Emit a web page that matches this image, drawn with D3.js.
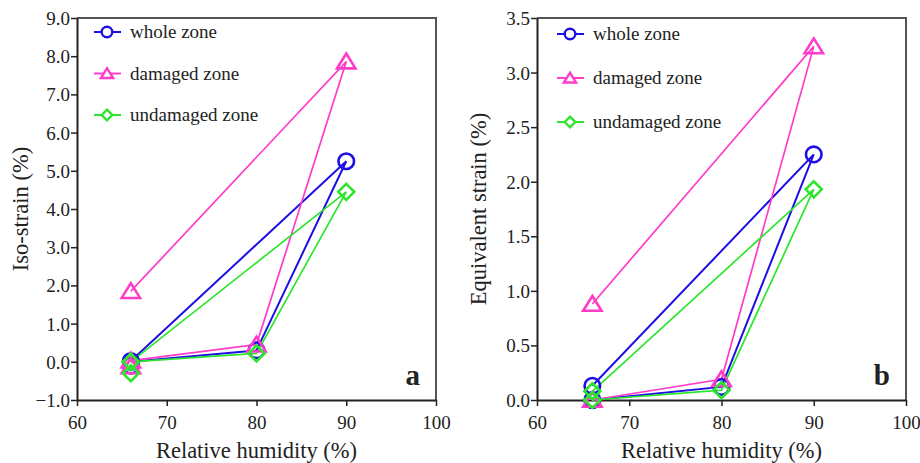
<!DOCTYPE html>
<html>
<head>
<meta charset="utf-8">
<script src="https://cdn.jsdelivr.net/npm/d3@7"></script>
<style>
  body { margin: 0; background: #fff; }
  text { font-family: "Liberation Serif", "Times New Roman", "DejaVu Serif", serif; fill: #222; }
</style>
</head>
<body>
<div id="chart-area"></div>
<script>

// Data
let rhPath = [66, 80, 90, 66];

// panel a : iso-strain (%)
let isoWhole = [0.0, 0.30, 5.25, 0.02];
let isoDamaged = [0.03, 0.45, 7.86, 1.85];
let isoUndamaged = [0.0, 0.22, 4.45, 0.0];
// second readings at 66 %
let isoWholeExtra = [-0.1];
let isoDamagedExtra = [-0.12];
let isoUndamagedExtra = [-0.3];

// panel b : equivalent strain (%)
let eqWhole = [0.0, 0.12, 2.25, 0.13];
let eqDamaged = [0.0, 0.19, 3.24, 0.88];
let eqUndamaged = [0.0, 0.09, 1.93, 0.08];

let seriesNames = ["whole zone", "damaged zone", "undamaged zone"];
let seriesColors = ["#1e10e4", "#ff3cc8", "#2ee52e"];
let seriesShapes = ["circle", "triangle", "diamond"];

let xTicks = [60, 70, 80, 90, 100];
let isoTicks = [-1, 0, 1, 2, 3, 4, 5, 6, 7, 8, 9];
let eqTicks = [0, 0.5, 1, 1.5, 2, 2.5, 3, 3.5];


let svg = d3.select("#chart-area").append("svg")
    .attr("width", 920)
    .attr("height", 463);

let serif = "'Liberation Serif', 'Times New Roman', 'DejaVu Serif', serif";

function shapePath(shape, s) {
    if (shape == "circle") {
        return d3.symbol().type(d3.symbolCircle).size(Math.PI * s * s)();
    }
    if (shape == "triangle") {
        let w = s * 1.15, h = s * 1.0;
        return "M0," + (-h) + "L" + w + "," + (h * 0.85) + "L" + (-w) + "," + (h * 0.85) + "Z";
    }
    let d = s * 1.0;
    return "M0," + (-d) + "L" + d + ",0L0," + d + "L" + (-d) + ",0Z";
}

function drawPanel(cfg) {
    let g = svg.append("g");

    let x = d3.scaleLinear().domain([60, 100]).range([cfg.left, cfg.right]);
    let y = d3.scaleLinear().domain(cfg.yDomain).range([cfg.bottom, cfg.top]);

    // frame (top + right)
    g.append("path")
        .attr("d", "M" + cfg.left + "," + cfg.top + "H" + cfg.right + "V" + cfg.bottom)
        .attr("fill", "none")
        .attr("stroke", "#555")
        .attr("stroke-width", 2);

    // Axes
    let xAxis = d3.axisBottom(x).tickValues(xTicks).tickSize(6).tickSizeOuter(0);
    let yAxis = d3.axisLeft(y).tickValues(cfg.yTicks).tickSize(6).tickSizeOuter(0)
        .tickFormat(d3.format(".1f"));

    let xg = g.append("g")
        .attr("transform", "translate(0," + cfg.bottom + ")")
        .call(xAxis);
    let yg = g.append("g")
        .attr("transform", "translate(" + cfg.left + ",0)")
        .call(yAxis);

    [xg, yg].forEach(function (a) {
        a.attr("font-family", serif);
        a.select(".domain").attr("stroke", "#222").attr("stroke-width", 2);
        a.selectAll(".tick line").attr("stroke", "#222").attr("stroke-width", 1.5);
        a.selectAll(".tick text")
            .attr("fill", "#222")
            .style("font-family", serif)
            .style("font-size", "19px");
    });
    xg.selectAll(".tick text").attr("dy", "1.05em");
    yg.selectAll(".tick text").attr("x", -7).attr("dy", "0.34em");

    // axis titles
    g.append("text")
        .attr("x", (cfg.left + cfg.right) / 2)
        .attr("y", 458)
        .attr("text-anchor", "middle")
        .style("font-size", "22.5px")
        .text("Relative humidity (%)");

    g.append("text")
        .attr("transform", "translate(" + cfg.yTitleX + "," + ((cfg.top + cfg.bottom) / 2) + ") rotate(-90)")
        .attr("text-anchor", "middle")
        .style("font-size", "22.5px")
        .text(cfg.yTitle);

    // panel letter
    g.append("text")
        .attr("x", cfg.right - 16)
        .attr("y", cfg.bottom - 15)
        .attr("text-anchor", "end")
        .style("font-size", "29px")
        .style("font-weight", "bold")
        .text(cfg.letter);

    let line = d3.line()
        .x(function (d) { return x(d[0]); })
        .y(function (d) { return y(d[1]); });

    // lines, then markers on top
    cfg.series.forEach(function (vals, i) {
        let pts = rhPath.map(function (r, k) { return [r, vals[k]]; });
        g.append("path")
            .attr("d", line(pts))
            .attr("fill", "none")
            .attr("stroke", seriesColors[i])
            .attr("stroke-width", i == 0 ? 2 : 1.7);
    });

    cfg.series.forEach(function (vals, i) {
        let pts = rhPath.map(function (r, k) { return [r, vals[k]]; });
        if (cfg.extras) {
            cfg.extras[i].forEach(function (v) { pts.unshift([66, v]); });
        }
        g.selectAll(".m" + i)
            .data(pts)
            .enter().append("path")
            .attr("class", "m" + i)
            .attr("transform", function (d) { return "translate(" + x(d[0]) + "," + y(d[1]) + ")"; })
            .attr("d", shapePath(seriesShapes[i], i == 0 ? 7.8 : 8))
            .attr("fill", "none")
            .attr("stroke", seriesColors[i])
            .attr("stroke-width", 2.6);
    });

    // legend
    seriesNames.forEach(function (name, i) {
        let ly = cfg.legendY + i * cfg.legendStep;
        let lx = cfg.legendX;
        g.append("line")
            .attr("x1", lx - 13).attr("x2", lx + 14)
            .attr("y1", ly).attr("y2", ly)
            .attr("stroke", seriesColors[i])
            .attr("stroke-width", 2);
        g.append("path")
            .attr("transform", "translate(" + lx + "," + ly + ")")
            .attr("d", shapePath(seriesShapes[i], 5.3))
            .attr("fill", "#fff")
            .attr("stroke", seriesColors[i])
            .attr("stroke-width", 2.4);
        g.append("text")
            .attr("x", lx + 23)
            .attr("y", ly + 6)
            .style("font-size", "19px")
            .text(name);
    });
}

drawPanel({
    left: 77, right: 436, top: 18, bottom: 400,
    yDomain: [-1, 9], yTicks: isoTicks,
    yTitle: "Iso-strain (%)", yTitleX: 28, letter: "a",
    series: [isoWhole, isoDamaged, isoUndamaged],
    extras: [isoWholeExtra, isoDamagedExtra, isoUndamagedExtra],
    legendX: 107, legendY: 32, legendStep: 41.5
});

drawPanel({
    left: 537, right: 906, top: 18, bottom: 400,
    yDomain: [0, 3.5], yTicks: eqTicks,
    yTitle: "Equivalent strain (%)", yTitleX: 486, letter: "b",
    series: [eqWhole, eqDamaged, eqUndamaged],
    legendX: 570, legendY: 34, legendStep: 44
});

</script>
</body>
</html>
